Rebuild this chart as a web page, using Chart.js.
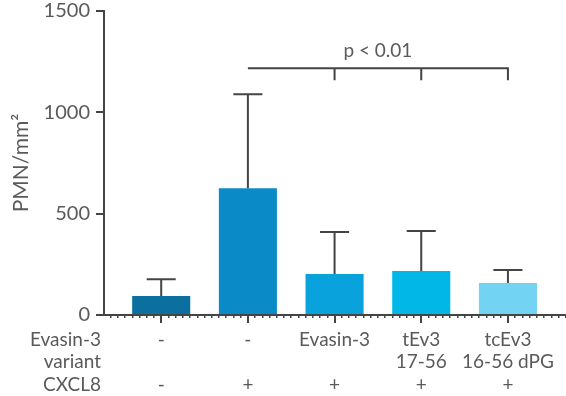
<!DOCTYPE html>
<html>
<head>
<meta charset="utf-8">
<script src="https://cdn.jsdelivr.net/npm/chart.js@4.4.1/dist/chart.umd.min.js"></script>
<style>
  html, body { margin: 0; background: #fff; }
  #wrap { width: 566px; height: 396px; }
</style>
</head>
<body>
<div id="wrap"><canvas id="c"></canvas></div>
<script>
// ---- data
const variantLine1 = ["-", "-", "Evasin-3", "tEv3", "tcEv3"];
const variantLine2 = ["", "", "", "17-56", "16-56 dPG"];
const cxcl8Row     = ["-", "+", "+", "+", "+"];
const rowHeaders   = ["Evasin-3", "variant", "CXCL8"];
const meanPMN      = [94, 626, 202, 217, 158];
const sdPMN        = [83, 463, 207, 197, 64];
const barColors    = ["#0b6f9f", "#0a8bc8", "#0aa2dc", "#00b7e8", "#73d3f3"];
const sigText = "p < 0.01";
const sigFrom = 1, sigTo = 4, sigDrops = [2, 3, 4];
const sigLevel = 1217, sigTextLevel = 1305;

const INK = "#444", TXT = "#5a5a5a", FONT = "Lato, 'Open Sans', sans-serif";

// error bars (SD, upper whisker only) + significance bracket + left row headers
const extras = {
  id: "extras",
  afterDatasetsDraw(chart) {
    const { ctx, scales: { x, y } } = chart;
    const bars = chart.getDatasetMeta(0).data;
    ctx.save();
    ctx.strokeStyle = INK; ctx.lineWidth = 2;
    meanPMN.forEach((m, i) => {
      const px = x.getPixelForValue(i), top = y.getPixelForValue(m + sdPMN[i]);
      const half = bars[i].width / 4;
      ctx.beginPath();
      ctx.moveTo(px, y.getPixelForValue(m)); ctx.lineTo(px, top);
      ctx.moveTo(px - half, top); ctx.lineTo(px + half, top);
      ctx.stroke();
    });
    // bracket
    const by = y.getPixelForValue(sigLevel);
    ctx.beginPath();
    ctx.moveTo(x.getPixelForValue(sigFrom), by); ctx.lineTo(x.getPixelForValue(sigTo), by);
    sigDrops.forEach(d => { const dx = x.getPixelForValue(d); ctx.moveTo(dx, by - 1); ctx.lineTo(dx, by + 12); });
    ctx.stroke();
    ctx.fillStyle = TXT; ctx.font = `19px ${FONT}`;
    ctx.textAlign = "center"; ctx.textBaseline = "middle";
    ctx.fillText(sigText, (x.getPixelForValue(sigFrom) + x.getPixelForValue(sigTo)) / 2, y.getPixelForValue(sigTextLevel));
    ctx.restore();
  },
  afterDraw(chart) {
    const { ctx, chartArea, scales: { x } } = chart;
    const lh = 19 * 1.2;
    ctx.save();
    ctx.fillStyle = TXT; ctx.font = `19px ${FONT}`;
    ctx.textAlign = "right"; ctx.textBaseline = "middle";
    rowHeaders.forEach((t, i) => ctx.fillText(t, chartArea.left - 3, x.top + 8 + 5 + lh / 2 + i * lh));
    ctx.restore();
  },
};

new Chart(document.getElementById("c"), {
  type: "bar",
  data: {
    datasets: [{
      data: meanPMN.map((v, i) => ({ x: i, y: v })),
      backgroundColor: barColors,
      categoryPercentage: 1, barPercentage: 0.67,
    }],
  },
  options: {
    responsive: true, maintainAspectRatio: false, animation: false,
    layout: { padding: { top: 11, right: 0, bottom: 0, left: 0 } },
    plugins: { legend: { display: false }, tooltip: { enabled: false } },
    scales: {
      x: {
        type: "linear", min: -0.66, max: 4.67, offset: false,
        border: { color: INK, width: 2 },
        grid: { offset: false, drawOnChartArea: false, tickLength: 8, color: INK, lineWidth: 2 },
        ticks: {
          stepSize: 1, includeBounds: false, autoSkip: false, maxRotation: 0, padding: 5,
          color: TXT, font: { family: FONT, size: 19, lineHeight: 1.2 },
          callback: v => (Number.isInteger(v) && v >= 0 && v < meanPMN.length)
            ? [variantLine1[v], variantLine2[v], cxcl8Row[v]] : "",
        },
        afterFit(s) { s.height = 81; s.paddingLeft = 0; s.paddingRight = 0; },
      },
      xm: { // minor ticks along the baseline
        type: "linear", min: -0.66, max: 4.67, offset: false, position: { y: 0 },
        border: { display: false },
        grid: { offset: false, drawOnChartArea: false, tickLength: 3, color: INK, lineWidth: 1.5 },
        ticks: { display: false, stepSize: 1 / 12, includeBounds: false },
      },
      y: {
        min: 0, max: 1500,
        border: { color: INK, width: 2 },
        grid: { drawOnChartArea: false, tickLength: 8, color: INK, lineWidth: 2 },
        ticks: { stepSize: 500, padding: 6, color: TXT, font: { family: FONT, size: 20 },
                 callback: v => String(v) },
        title: { display: true, text: "PMN/mm²", color: TXT, font: { family: FONT, size: 21 },
                 padding: { top: 9, bottom: 0 } },
        afterFit(s) { s.width = 104; s.paddingTop = 0; s.paddingBottom = 0; },
      },
    },
  },
  plugins: [extras],
});
</script>
</body>
</html>
